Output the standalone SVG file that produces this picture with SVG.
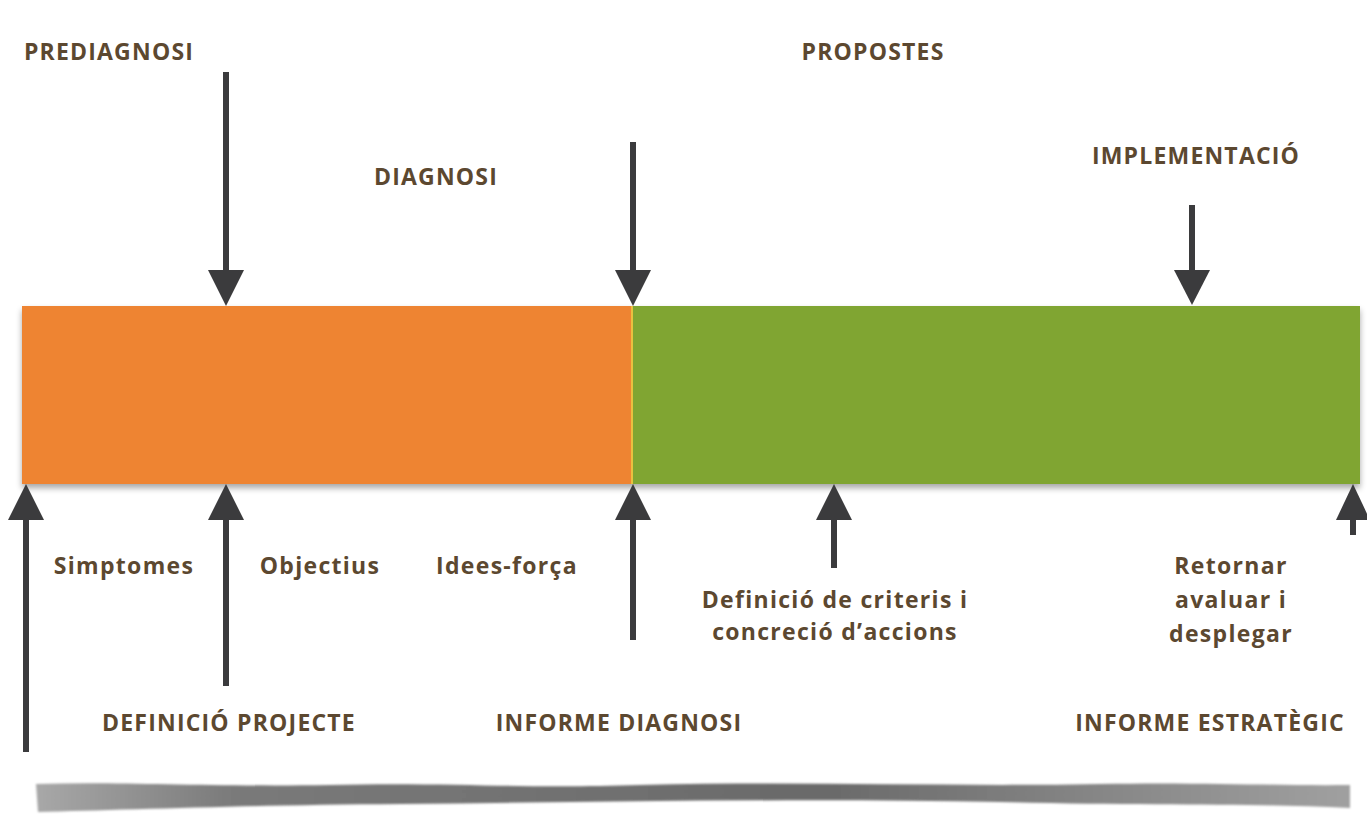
<svg xmlns="http://www.w3.org/2000/svg" width="1367" height="816" viewBox="0 0 1367 816">
<defs>
<style>
.t{font-family:"Open Sans",Lato,sans-serif;font-weight:bold;font-size:23px;fill:#5c4830;text-anchor:middle;letter-spacing:1.2px}
.l{font-size:23px;letter-spacing:1.3px}
.c{stroke:#3b3b3d;stroke-width:6;fill:none}
.h{fill:#3b3b3d}
</style>
<linearGradient id="sh" x1="0" y1="0" x2="1" y2="0">
<stop offset="0" stop-color="#a8a8a8"/>
<stop offset="0.15" stop-color="#7a7a7a"/>
<stop offset="0.6" stop-color="#6a6a6a"/>
<stop offset="1" stop-color="#a0a0a0"/>
</linearGradient>
<filter id="ds" x="-5%" y="-10%" width="110%" height="130%">
<feGaussianBlur in="SourceAlpha" stdDeviation="3"/>
<feOffset dy="4"/>
<feComponentTransfer><feFuncA type="linear" slope="0.35"/></feComponentTransfer>
<feMerge><feMergeNode/><feMergeNode in="SourceGraphic"/></feMerge>
</filter>
<filter id="bl"><feGaussianBlur stdDeviation="1.2"/></filter>
</defs>
<rect width="1367" height="816" fill="#ffffff"/>
<path d="M36 784 C120 781 200 787 330 785 C450 782 520 789 640 785 C800 781 950 787 1100 784 C1200 782 1280 786 1350 785 L1350 808 C1250 803 1150 806 1000 802 C800 798 600 802 400 804 C250 805 120 810 38 812 Z" fill="url(#sh)" filter="url(#bl)"/>
<g id="bar" filter="url(#ds)">
<rect x="22" y="306" width="610" height="178" fill="#ee8431"/>
<rect x="632" y="306" width="728" height="178" fill="#80a532"/>
<line x1="632" y1="306" x2="632" y2="484" stroke="#e8c040" stroke-width="2"/>
</g>
<g id="connectors">
<line class="c" x1="226" y1="72" x2="226" y2="275"/>
<polygon class="h" points="208,270 244,270 226,306"/>
<line class="c" x1="633" y1="142" x2="633" y2="275"/>
<polygon class="h" points="615,270 651,270 633,306"/>
<line class="c" x1="1192" y1="205" x2="1192" y2="275"/>
<polygon class="h" points="1174,270 1210,270 1192,305"/>
<line class="c" x1="26" y1="752" x2="26" y2="515"/>
<polygon class="h" points="8,520 44,520 26,484"/>
<line class="c" x1="226" y1="686" x2="226" y2="515"/>
<polygon class="h" points="208,520 244,520 226,484"/>
<line class="c" x1="633" y1="640" x2="633" y2="515"/>
<polygon class="h" points="615,520 651,520 633,484"/>
<line class="c" x1="834" y1="568" x2="834" y2="515"/>
<polygon class="h" points="816,520 852,520 834,484"/>
<line class="c" x1="1353" y1="535" x2="1353" y2="515"/>
<polygon class="h" points="1336,520 1370,520 1353,484"/>
</g>
<g id="n-prediagnosi"><text class="t" x="109" y="60">PREDIAGNOSI</text></g>
<g id="n-propostes"><text class="t" x="873" y="60">PROPOSTES</text></g>
<g id="n-diagnosi"><text class="t" x="436" y="185">DIAGNOSI</text></g>
<g id="n-implementacio"><text class="t" x="1196" y="164">IMPLEMENTACIÓ</text></g>
<g id="n-simptomes"><text class="t l" x="124" y="574">Simptomes</text></g>
<g id="n-objectius"><text class="t l" x="320" y="574">Objectius</text></g>
<g id="n-idees"><text class="t l" x="507" y="574">Idees-força</text></g>
<g id="n-definicio-criteris"><text class="t l" x="835" y="608">Definició de criteris i</text><text class="t l" x="835" y="640">concreció d’accions</text></g>
<g id="n-retornar"><text class="t l" x="1231" y="574">Retornar</text><text class="t l" x="1231" y="608">avaluar i</text><text class="t l" x="1231" y="642">desplegar</text></g>
<g id="n-definicio-projecte"><text class="t" x="229" y="731">DEFINICIÓ PROJECTE</text></g>
<g id="n-informe-diagnosi"><text class="t" x="619" y="731">INFORME DIAGNOSI</text></g>
<g id="n-informe-estrategic"><text class="t" x="1210" y="731">INFORME ESTRATÈGIC</text></g>
</svg>
